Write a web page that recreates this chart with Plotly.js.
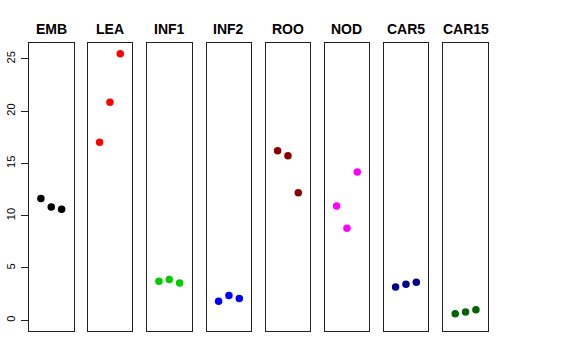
<!DOCTYPE html>
<html>
<head>
<meta charset="utf-8">
<script src="https://cdn.plot.ly/plotly-3.0.1.min.js"></script>
<style>html,body{margin:0;padding:0;background:#fff;}#chart{width:576px;height:360px;}</style>
</head>
<body>
<div id="chart"></div>
<script>
const categories = ["EMB", "LEA", "INF1", "INF2", "ROO", "NOD", "CAR5", "CAR15"];
const replicate = [1, 2, 3];
const EMB = [11.64, 10.84, 10.62];
const LEA = [17.03, 20.86, 25.51];
const INF1 = [3.73, 3.89, 3.57];
const INF2 = [1.82, 2.36, 2.07];
const ROO = [16.23, 15.75, 12.21];
const NOD = [10.94, 8.80, 14.19];
const CAR5 = [3.19, 3.44, 3.63];
const CAR15 = [0.63, 0.79, 1.01];
const seriesValues = [EMB, LEA, INF1, INF2, ROO, NOD, CAR5, CAR15];
const colors = ["#000000", "#FF0000", "#00CD00", "#0000FF", "#8B0000", "#FF00FF", "#00008B", "#006400"];
const yTicks = [0, 5, 10, 15, 20, 25];

const W = 576, H = 360;
const panelLeft = [29, 87.7, 147, 206.7, 265.7, 324.7, 383.7, 443.3];
const panelWidth = 44.5;
const yTop = 43.3, yBot = 330.7;

const data = [];
const layout = {
  width: W, height: H,
  margin: {l: 0, r: 0, t: 0, b: 0},
  paper_bgcolor: "#fff", plot_bgcolor: "#fff",
  showlegend: false,
  font: {family: "Liberation Sans, Arial, sans-serif", color: "#000"},
  annotations: []
};
categories.forEach((c, i) => {
  const n = i === 0 ? "" : String(i + 1);
  data.push({
    type: "scatter", mode: "markers",
    x: replicate, y: seriesValues[i],
    xaxis: "x" + n, yaxis: "y" + n,
    marker: {color: colors[i], size: 7.5},
    hoverinfo: "skip"
  });
  const d0 = panelLeft[i] / W, d1 = (panelLeft[i] + panelWidth) / W;
  layout["xaxis" + n] = {
    domain: [d0, d1], range: [-0.15, 4.15], anchor: "y" + n,
    showgrid: false, zeroline: false, showticklabels: false, ticks: "",
    showline: true, mirror: true, linecolor: "#222", linewidth: 1, fixedrange: true
  };
  layout["yaxis" + n] = {
    domain: [1 - yBot / H, 1 - yTop / H], range: [-1.0, 26.5], anchor: "x" + n,
    showgrid: false, zeroline: false,
    showline: true, mirror: true, linecolor: "#222", linewidth: 1, fixedrange: true,
    showticklabels: i === 0, ticks: i === 0 ? "outside" : "",
    tickvals: yTicks, ticktext: yTicks.map(String),
    ticklen: 7, tickcolor: "#222", tickangle: -90,
    tickfont: {size: 11, color: "#000"}, ticklabelstandoff: 2
  };
  layout.annotations.push({
    text: "<b>" + c + "</b>", xref: "paper", yref: "paper",
    x: (panelLeft[i] + panelWidth / 2) / W, y: 1 - 29.3 / H,
    xanchor: "center", yanchor: "middle", showarrow: false,
    font: {size: 14, color: "#000"}
  });
});
Plotly.newPlot("chart", data, layout, {staticPlot: true, displayModeBar: false});
</script>
</body>
</html>
